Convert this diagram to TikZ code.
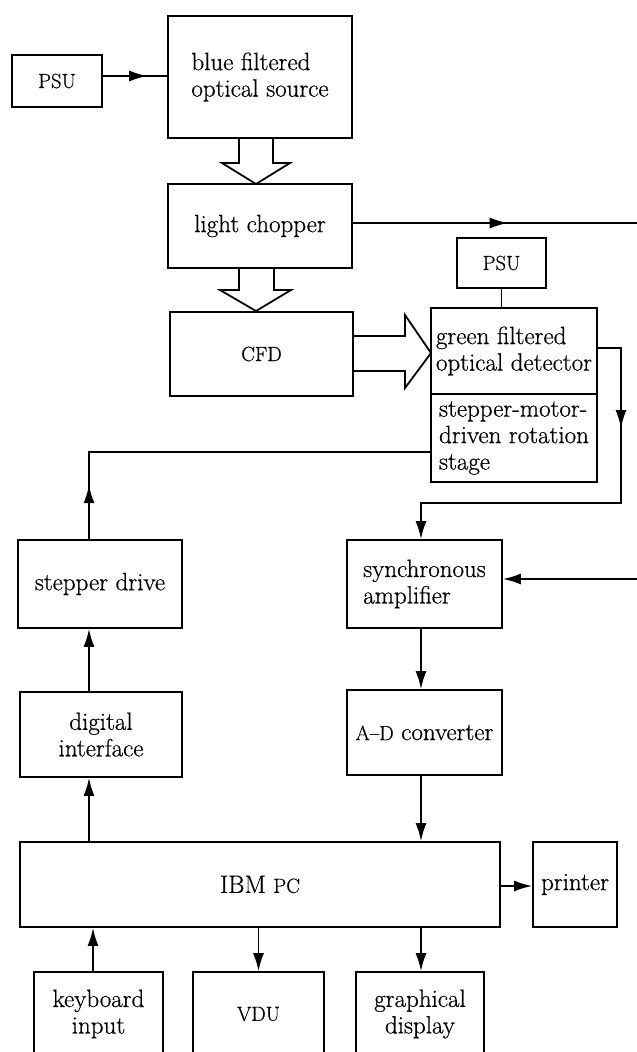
\documentclass[tikz,border=0pt]{standalone}
\usepackage{fontspec}
\setmainfont{Latin Modern Roman}[FakeBold=0.6]
\usetikzlibrary{arrows.meta,decorations.markings}
\newcommand\smc[1]{{\fontsize{20.5}{21}\selectfont #1}}
\begin{document}
\begin{tikzpicture}[x=1pt,y=-1pt,
  every node/.style={font=\fontsize{25}{26.5}\selectfont},
  box/.style={draw, line width=1.8pt, inner sep=1pt, align=left},
  ln/.style={line width=1.7pt},
  arr/.style={line width=1.7pt, -{Latex[length=18pt,width=11pt]}},
  midarrow/.style={postaction={decorate},decoration={markings,mark=at position #1 with {\arrow{Latex[length=18pt,width=11pt]}}}},
  hollow/.style={line width=1.8pt, line join=miter}
]
\useasboundingbox (0,0) rectangle (637,1052);
\clip (0,0) rectangle (637,1052);

% boxes
\node[box, minimum width=90pt, minimum height=52pt] (psu1) at (57,81) {\smc{PSU}};
\node[box, minimum width=184pt, minimum height=122pt] (blue) at (260,77) {blue filtered\\optical source};
\node[box, minimum width=184pt, minimum height=84pt] (chop) at (260,226) {light chopper};
\node[box, minimum width=183pt, minimum height=84pt] (cfd) at (261.5,354) {\smc{CFD}};
\node[box, minimum width=89pt, minimum height=50pt] (psu2) at (501.5,263) {\smc{PSU}};
\node[box, minimum width=166pt, minimum height=86pt] (det) at (514,351) {green filtered\\optical detector};
\node[box, minimum width=166pt, minimum height=88pt] (stage) at (514,438) {stepper-motor-\\driven rotation\\stage};
\node[box, minimum width=164pt, minimum height=88pt] (step) at (100,584) {stepper drive};
\node[box, minimum width=155pt, minimum height=88pt] (sync) at (424.5,584) {synchronous\\amplifier};
\node[box, minimum width=162pt, minimum height=85pt, align=center] (di) at (101,734.5) {digital\\interface};
\node[box, minimum width=155pt, minimum height=85pt] (ad) at (424.5,732.5) {\smc{A--D} converter};
\node[box, minimum width=480pt, minimum height=85pt] (pc) at (260,884.5) {IBM \smc{PC}};
\node[box, minimum width=84pt, minimum height=85pt] (prn) at (575,884.5) {printer};
\node[box, minimum width=129pt, minimum height=84pt, align=center] (kb) at (98.5,1014) {keyboard\\input};
\node[box, minimum width=131pt, minimum height=84pt] (vdu) at (258.5,1014) {\smc{VDU}};
\node[box, minimum width=128pt, minimum height=84pt, align=center] (gd) at (420,1014) {graphical\\display};

% helper coordinates
\coordinate (lx) at (89,0);
\coordinate (kx) at (93,0);
\coordinate (rx) at (421,0);
\coordinate (sy) at (0,452);
\coordinate (dy) at (0,348);
\coordinate (ox) at (621,0);
\coordinate (oy) at (0,503);
\coordinate (E1) at (645,223);
\coordinate (E2) at (645,579);
\coordinate (py) at (0,886);

% hollow block arrows
\draw[hollow] (239,138) -- (239,163) -- (222,163) -- (256,184) -- (290,163) -- (273,163) -- (273,138);
\draw[hollow] (239,268) -- (239,290) -- (220,290) -- (256,311) -- (291,290) -- (274,290) -- (274,268);
\draw[hollow] (353,336) -- (405,336) -- (405,315) -- (431,353) -- (405,388) -- (405,371) -- (353,371);

% connectors
\draw[ln, midarrow=0.69] (psu1.east |- 0,76) -- (blue.west |- 0,76);
\draw[ln, midarrow=0.53] (chop.east |- 0,223) -- (E1);
\draw[ln] (psu2.south) -- (psu2.south |- det.north);
\draw[ln, midarrow=0.126] (step.north -| lx) -- (lx |- sy) -- (stage.west |- sy);
\draw[arr, midarrow=0.249] (det.east |- dy) -- (ox |- dy) -- (ox |- oy) -- (rx |- oy) -- (sync.north -| rx);
\draw[arr] (E2) -- (sync.east |- E2);
\draw[arr] (sync.south -| rx) -- (ad.north -| rx);
\draw[arr] (ad.south -| rx) -- (pc.north -| rx);
\draw[arr] (di.north -| lx) -- (step.south -| lx);
\draw[arr] (pc.north -| lx) -- (di.south -| lx);
\draw[arr] (kb.north -| kx) -- (pc.south -| kx);
\draw[arr] (pc.east |- py) -- (prn.west |- py);
\draw[arr] (pc.south -| vdu) -- (vdu.north);
\draw[arr] (pc.south -| rx) -- (gd.north -| rx);
\end{tikzpicture}
\end{document}
